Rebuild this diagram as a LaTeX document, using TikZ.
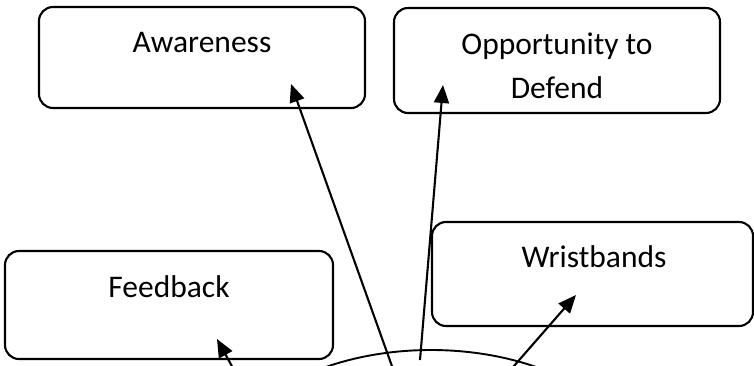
\documentclass[tikz,border=0pt]{standalone}
\usepackage{fontspec}
\setmainfont{Carlito}
\usetikzlibrary{arrows.meta,shapes.geometric}

\tikzset{
  box/.style={draw, rounded corners=14pt, line width=2.1pt, rectangle},
  lbl/.style={font=\fontsize{31.5}{44}\selectfont, inner sep=0pt, anchor=base, align=center},
  hubshape/.style={draw, ellipse, line width=1.9pt, minimum width=440pt, minimum height=280pt, inner sep=0pt},
  arr/.style={line width=2.1pt, -{Triangle[length=18pt,width=15pt]}}
}

\begin{document}
\begin{tikzpicture}[x=1pt,y=-1pt]
  \useasboundingbox (0,0) rectangle (754,366);
  \clip (0,0) rectangle (754,366);

  % outer boxes
  \node[box, minimum width=326pt, minimum height=101pt] (aware) at (202,57.5) {};
  \node[box, minimum width=326pt, minimum height=105pt] (defend) at (557,60.5) {};
  \node[box, minimum width=328pt, minimum height=108pt] (feed) at (169,305) {};
  \node[box, minimum width=321pt, minimum height=104pt] (wrist) at (592.5,274) {};

  % box captions (a two-line caption sits on the baseline of its last line)
  \node[lbl] (awareT) at (202,53) {Awareness};
  \node[lbl] (defendT) at (557,99) {Opportunity to\\Defend};
  \node[lbl] (feedT) at (169,297) {Feedback};
  \node[lbl] (wristT) at (594,267) {Wristbands};

  % central hub, mostly below the frame
  \node[hubshape] (hub) at (431,490) {};

  % arrow ends
  \coordinate (sAware) at (400.5,390);
  \coordinate (tAware) at (291,84);
  \coordinate (sDefend) at (420,360);
  \coordinate (tDefend) at (443,85);
  \coordinate (sWrist) at (493,390);
  \coordinate (tWrist) at (576,295);
  \coordinate (sFeed) at (245,390);
  \coordinate (tFeed) at (217,339);

  \draw[arr] (sAware) -- (tAware);
  \draw[arr] (sDefend) -- (tDefend);
  \draw[arr] (sWrist) -- (tWrist);
  \draw[arr] (sFeed) -- (tFeed);
\end{tikzpicture}
\end{document}
